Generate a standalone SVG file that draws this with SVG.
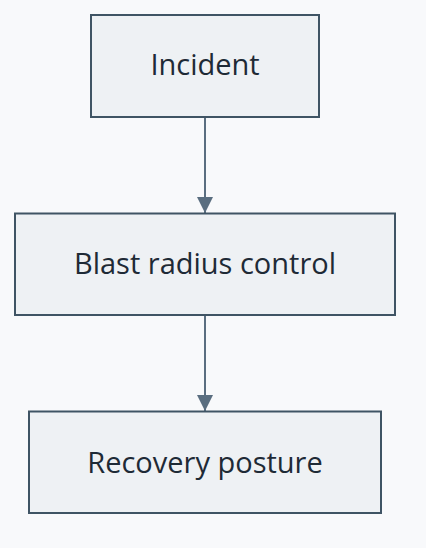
<svg xmlns="http://www.w3.org/2000/svg" width="426" height="548" viewBox="0 0 426 548">
<style>
.node rect{fill:#eef1f4;stroke:#3f5464;stroke-width:2}
.node text{font-family:"Open Sans","Noto Sans",sans-serif;font-size:29px;fill:#1e2a36;text-anchor:middle}
.edge{stroke:#5a6e80;stroke-width:2;fill:none}
</style>
<defs>
<marker id="arrow" markerWidth="8" markerHeight="8" refX="8" refY="4" orient="auto" markerUnits="strokeWidth">
<path d="M0,0 L8,4 L0,8 Z" fill="#5a6e80"/>
</marker>
</defs>
<rect width="426" height="548" fill="#f8f9fb"/>
<g id="connectors">
<line class="edge" x1="205" y1="117" x2="205" y2="213" marker-end="url(#arrow)"/>
<line class="edge" x1="205" y1="315" x2="205" y2="411" marker-end="url(#arrow)"/>
</g>
<g id="node-incident" class="node">
<rect x="91" y="15" width="228" height="102"/>
<text x="205" y="75">Incident</text>
</g>
<g id="node-blast" class="node">
<rect x="15" y="213.5" width="380" height="101.5"/>
<text x="205" y="274">Blast radius control</text>
</g>
<g id="node-recovery" class="node">
<rect x="29" y="411.5" width="352" height="101.5"/>
<text x="205" y="472.5">Recovery posture</text>
</g>
</svg>
